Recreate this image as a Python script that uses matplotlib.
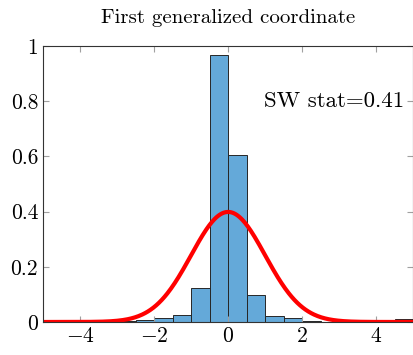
import numpy as np
import matplotlib
matplotlib.use("Agg")
import matplotlib.pyplot as plt

plt.rcParams['font.family'] = 'serif'
plt.rcParams['font.serif'] = ['cmr10']
plt.rcParams['mathtext.fontset'] = 'cm'
plt.rcParams['axes.formatter.use_mathtext'] = True

# histogram bins (width 0.5) and normalised heights
bin_edges = np.arange(-5, 5.01, 0.5)
heights = [0.0, 0.0, 0.003, 0.003, 0.003, 0.006, 0.016, 0.024, 0.124, 0.969,
           0.604, 0.097, 0.022, 0.016, 0.002, 0.0, 0.0, 0.0, 0.003, 0.01]
sw_stat = 0.41

x_pdf = np.linspace(-5, 5, 400)
pdf = np.exp(-x_pdf ** 2 / 2) / np.sqrt(2 * np.pi)

fig, ax = plt.subplots(figsize=(4.14, 3.55), dpi=100)
fig.subplots_adjust(left=0.104, right=0.998, bottom=0.093, top=0.870)

ax.bar(bin_edges[:-1], heights, width=0.5, align='edge', color='#64a9d9',
       edgecolor='#262626', linewidth=0.7)
ax.plot(x_pdf, pdf, color='red', linewidth=3)

ax.set_xlim(-5, 5)
ax.set_ylim(0, 1)
ax.set_xticks([-4, -2, 0, 2, 4])
ax.set_yticks([0, 0.2, 0.4, 0.6, 0.8, 1])
ax.set_yticklabels(['0', '0.2', '0.4', '0.6', '0.8', '1'])
ax.tick_params(direction='in', color='#a0a0a0', length=4, top=True, right=True,
               labelsize=15.5)
for s in ax.spines.values():
    s.set_color('#333333')
    s.set_linewidth(0.8)

ax.text(4.75, 0.80, f'SW stat={sw_stat}', ha='right', va='center', fontsize=16.5)
ax.set_title('First generalized coordinate', fontsize=15, pad=17)

fig.savefig('out.png', dpi=100)
